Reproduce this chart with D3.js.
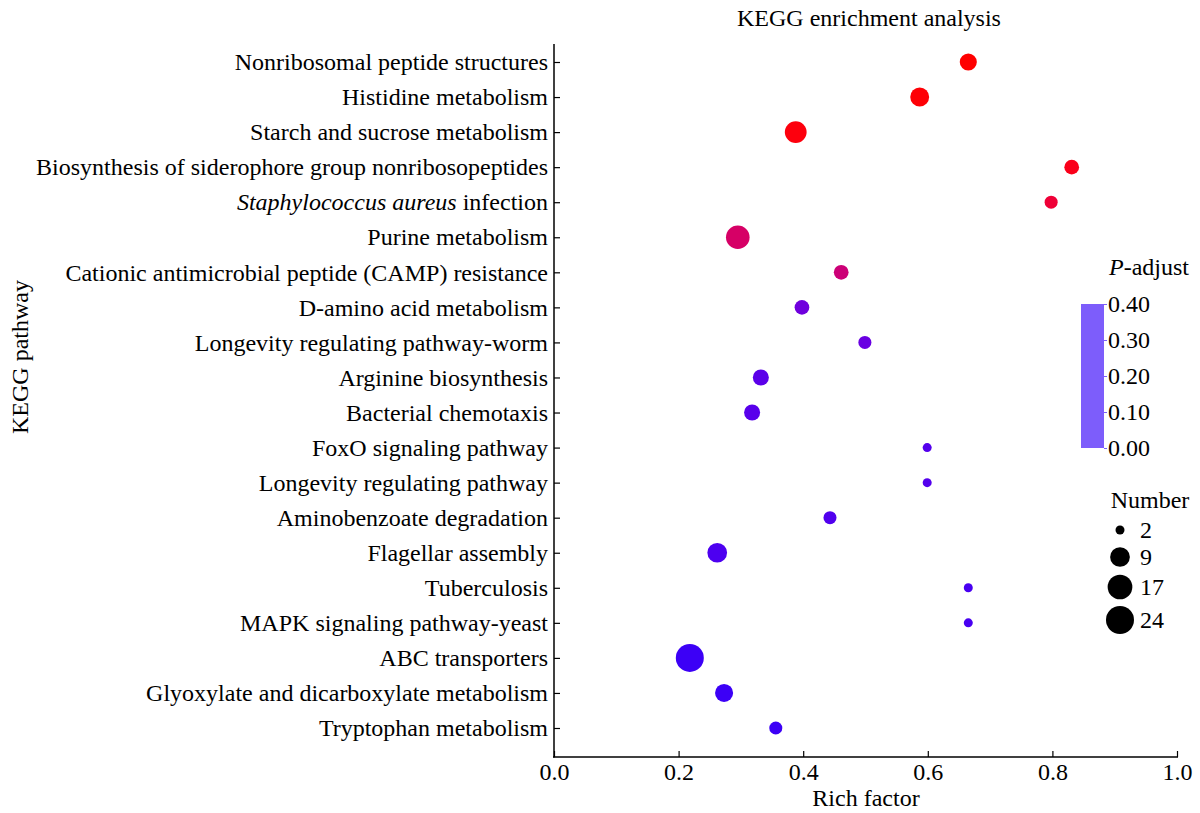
<!DOCTYPE html>
<html><head><meta charset="utf-8">
<script src="https://cdn.jsdelivr.net/npm/d3@7"></script>
<style>body{margin:0;background:#fff}text{font-family:"Liberation Serif","Times New Roman",serif;fill:#000}</style>
</head><body>
<svg id="c" width="1200" height="813"></svg>
<script>
const pathways = ["Nonribosomal peptide structures","Histidine metabolism","Starch and sucrose metabolism","Biosynthesis of siderophore group nonribosopeptides","Staphylococcus aureus infection","Purine metabolism","Cationic antimicrobial peptide (CAMP) resistance","D-amino acid metabolism","Longevity regulating pathway-worm","Arginine biosynthesis","Bacterial chemotaxis","FoxO signaling pathway","Longevity regulating pathway","Aminobenzoate degradation","Flagellar assembly","Tuberculosis","MAPK signaling pathway-yeast","ABC transporters","Glyoxylate and dicarboxylate metabolism","Tryptophan metabolism"];
const richFactor = [0.665,0.587,0.388,0.831,0.798,0.295,0.461,0.398,0.499,0.332,0.318,0.599,0.599,0.443,0.262,0.665,0.665,0.218,0.273,0.356];
const counts = [6,8,12,4,3,15,4,4,3,5,5,2,2,3,9,2,2,24,7,3];
const pAdjust = [0.000,0.004,0.008,0.02,0.06,0.14,0.17,0.345,0.352,0.365,0.367,0.37,0.37,0.372,0.375,0.378,0.378,0.385,0.385,0.385];
const xTicks = [0,0.2,0.4,0.6,0.8,1.0];
const pTicks = [0,0.1,0.2,0.3,0.4];
const sizeBreaks = [2,9,17,24];

const FS = 24;
const svg = d3.select("#c");
const x = d3.scaleLinear().domain([0,1]).range([554,1177]);
const y = d3.scalePoint().domain(pathways).range([62,728]);
const rMin=4.5, rMax=14;
const r = v => rMin + (rMax-rMin)*Math.sqrt((v-2)/22);
const color = d3.scaleLinear().domain([0,0.4]).range(["#ff0000","#0000ff"]).interpolate(d3.interpolateLab);

// axes
const xAxis = d3.axisBottom(x).tickValues(xTicks).tickFormat(d3.format(".1f")).tickSize(-6).tickSizeOuter(0).tickPadding(6);
const gx = svg.append("g").attr("transform","translate(0,757)").call(xAxis);
gx.select(".domain").remove();
gx.append("line").attr("x1",553).attr("x2",1178).attr("y1",0).attr("y2",0).attr("stroke","#000").attr("stroke-width",1.5);
gx.selectAll(".tick line").attr("stroke","#000").attr("stroke-width",1.2);
gx.selectAll(".tick text").attr("font-size",FS).attr("font-family","Liberation Serif");

const yAxis = d3.axisLeft(y).tickSize(-6).tickSizeOuter(0).tickPadding(6);
const gy = svg.append("g").attr("transform","translate(554,0)").call(yAxis);
gy.select(".domain").remove();
gy.append("line").attr("x1",0).attr("x2",0).attr("y1",44).attr("y2",757.5).attr("stroke","#000").attr("stroke-width",1.5);
gy.selectAll(".tick line").attr("stroke","#000").attr("stroke-width",1.2);
gy.selectAll(".tick text").attr("font-size",FS).attr("font-family","Liberation Serif")
  .each(function(d){
    if(d.startsWith("Staphylococcus aureus")){
      const t=d3.select(this); t.text(null);
      t.append("tspan").attr("font-style","italic").text("Staphylococcus aureus");
      t.append("tspan").text(" infection");
    }
  });

// dots
svg.append("g").selectAll("circle").data(pathways).join("circle")
  .attr("cx",(d,i)=>x(richFactor[i])).attr("cy",d=>y(d))
  .attr("r",(d,i)=>r(counts[i])).attr("fill",(d,i)=>color(pAdjust[i]));

// titles
svg.append("text").attr("x",869).attr("y",26).attr("text-anchor","middle").attr("font-size",FS).text("KEGG enrichment analysis");
svg.append("text").attr("x",866).attr("y",806).attr("text-anchor","middle").attr("font-size",FS).text("Rich factor");
svg.append("text").attr("transform","translate(28,357) rotate(-90)").attr("text-anchor","middle").attr("font-size",FS).text("KEGG pathway");

// colorbar legend
const cb = d3.scaleLinear().domain([0,0.4]).range([448,304]);
const lg = svg.append("g");
const pt = lg.append("text").attr("x",1149).attr("y",275).attr("text-anchor","middle").attr("font-size",FS);
pt.append("tspan").attr("font-style","italic").text("P");
pt.append("tspan").text("-adjust");
lg.append("rect").attr("x",1081).attr("y",cb(0.4)).attr("width",23).attr("height",cb(0)-cb(0.4)).attr("fill","#7d5dfb");
const cax = d3.axisRight(cb).tickValues(pTicks).tickFormat(d3.format(".2f")).tickSize(3).tickPadding(1);
const gc = lg.append("g").attr("transform","translate(1104,0)").call(cax);
gc.select(".domain").remove();
gc.selectAll(".tick line").attr("stroke","#7d5dfb");
gc.selectAll(".tick text").attr("font-size",FS).attr("font-family","Liberation Serif");

// size legend
const sy = [530,557,587,620];
lg.append("text").attr("x",1150).attr("y",508).attr("text-anchor","middle").attr("font-size",FS).text("Number");
lg.selectAll("circle.sz").data(sizeBreaks).join("circle").attr("class","sz")
  .attr("cx",1120).attr("cy",(d,i)=>sy[i]).attr("r",d=>r(d)).attr("fill","#000");
lg.selectAll("text.sz").data(sizeBreaks).join("text").attr("class","sz")
  .attr("x",1140).attr("y",(d,i)=>sy[i]+8).attr("font-size",FS).text(d=>d);
</script>
</body></html>
